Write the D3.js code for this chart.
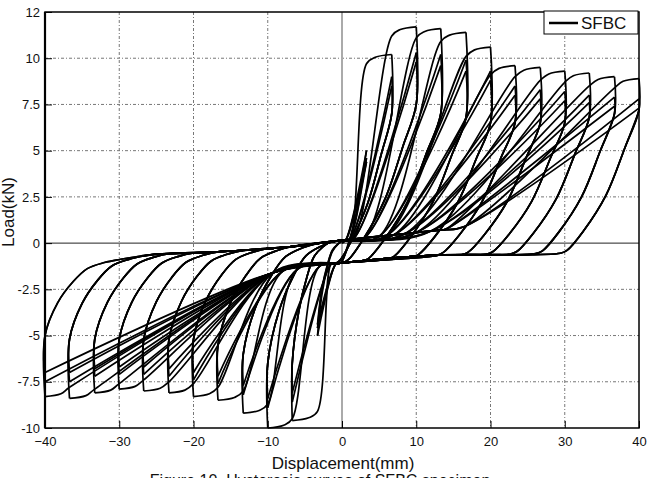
<!DOCTYPE html>
<html>
<head>
<meta charset="utf-8">
<script src="https://cdn.jsdelivr.net/npm/d3@7"></script>
<style>
  body { margin: 0; background: #fff; }
  svg { display: block; }
  text { font-family: "Liberation Sans", Arial, sans-serif; fill: #111; }
</style>
</head>
<body>
<svg id="chart" width="649" height="478"></svg>
<script>
// axis ticks
const xTicks = [-40, -30, -20, -10, 0, 10, 20, 30, 40];
const yTicks = [-10, -7.5, -5, -2.5, 0, 2.5, 5, 7.5, 10, 12.5];
const yTickLabels = ["-10", "-7.5", "-5", "-2.5", "0", "2.5", "5", "7.5", "10", "12"];

// displacement amplitude of each loading level (mm)
const levelDisp = [3.3, 6.7, 10, 13.3, 16.7, 20, 23.3, 26.7, 30, 33.3, 36.7, 40];

// peak loads of the three cycles at each level (kN)
const posPeakLoad = [
  [5.0, 4.6, 4.4], [10.2, 9.0, 8.5], [11.7, 10.3, 9.8], [11.6, 10.2, 9.6],
  [11.4, 9.9, 9.3], [10.6, 9.3, 8.8], [9.6, 8.5, 8.0], [9.5, 8.3, 7.8],
  [9.3, 8.2, 7.7], [9.2, 8.0, 7.6], [9.0, 7.9, 7.4], [8.9, 7.8, 7.3],
];
const negPeakLoad = [
  [-5.0, -4.6, -4.4], [-9.6, -8.6, -8.1], [-10.0, -8.9, -8.4], [-9.2, -8.2, -7.7],
  [-8.5, -7.6, -7.2], [-8.3, -7.4, -7.0], [-8.1, -7.2, -6.8], [-8.0, -7.1, -6.7],
  [-7.9, -7.1, -6.7], [-8.1, -7.2, -6.8], [-8.4, -7.5, -7.0], [-8.3, -7.5, -7.0],
];

// load reached at the end of the near-vertical drop after each peak
const posDropLoad = [5.0, 7.0, 7.5, 7.0, 6.8, 6.5, 6.5, 6.5, 6.5, 6.8, 7.0, 7.2];
const negDropLoad = [-5.0, -6.5, -6.5, -6.0, -5.5, -5.2, -5.2, -5.2, -5.2, -5.2, -5.2, -5.0];

// where unloading joins the slip bands, and where reloading leaves them (mm)
const posFootDisp = [-0.3, -1.0, 0.0, 2.7, 6.1, 9.4, 12.7, 16.1, 19.4, 22.7, 26.1, 29.4];
const negFootDisp = [0.2, -1.5, -1.0, -3.3, -6.7, -10, -13.3, -16.7, -20, -23.3, -26.7, -30];
const posStartDisp = [0.5, 1, 1.5, 3, 5, 6, 7, 8.5, 10, 12, 14, 16.5];
const negStartDisp = [-0.8, -1.5, -3, -6, -8, -9.3, -9.3, -9.3, -9.3, -9.3, -9.3, -9.3];

// slip bands: moving right (upper) and moving left (lower)
const upperBandDisp = [-40, -32, -25, -18, -13.7, -7, 0, 13, 20, 40];
const upperBandLoad = [-1.4, -1.0, -0.6, -0.5, -0.4, -0.2, 0.15, 0.7, 1.1, 1.6];
const lowerBandDisp = [-40, -12, -9.3, 0, 13, 29.4, 40];
const lowerBandLoad = [-2.6, -1.75, -1.6, -1.07, -0.65, -0.55, -0.5];

const posUnloadShape = [[0, 0], [0.18, 0.265], [0.42, 0.596], [0.71, 0.848], [0.915, 0.98], [1, 1]];
const negUnloadShape = [[0, 0], [0.17, 0.43], [0.38, 0.71], [0.57, 0.88], [0.8, 0.96], [1, 1]];
// saw-tooth approach to a new peak along the envelope: [fraction between levels, load below peak]
const arcShape = [[0, 0.5], [0.35, 0.15]];

const svg = d3.select("#chart");
const x = d3.scaleLinear().domain([-40, 40]).range([45, 639]);
const y = d3.scaleLinear().domain([-10, 12.5]).range([428, 12]);
const upperBand = d3.scaleLinear().domain(upperBandDisp).range(upperBandLoad);
const lowerBand = d3.scaleLinear().domain(lowerBandDisp).range(lowerBandLoad);

// grid
const grid = svg.append("g");
grid.selectAll(".gx")
  .data(xTicks.filter((d) => d !== 0 && Math.abs(d) !== 40))
  .join("line")
  .attr("x1", (d) => x(d)).attr("x2", (d) => x(d))
  .attr("y1", y(12.5)).attr("y2", y(-10))
  .attr("stroke", "#777").attr("stroke-width", 1)
  .attr("stroke-dasharray", "3,2,1,2");
grid.selectAll(".gy")
  .data(yTicks.filter((d) => d !== 0 && d !== -10 && d !== 12.5))
  .join("line")
  .attr("x1", x(-40)).attr("x2", x(40))
  .attr("y1", (d) => y(d)).attr("y2", (d) => y(d))
  .attr("stroke", "#777").attr("stroke-width", 1)
  .attr("stroke-dasharray", "3,2,1,2");
grid.append("line")
  .attr("x1", x(0)).attr("x2", x(0)).attr("y1", y(12.5)).attr("y2", y(-10))
  .attr("stroke", "#aaa").attr("stroke-width", 2);
grid.append("line")
  .attr("x1", x(-40)).attr("x2", x(40)).attr("y1", y(0)).attr("y2", y(0))
  .attr("stroke", "#222").attr("stroke-width", 1);

// build hysteresis branches, one between each pair of successive peaks
const peaks = [];
levelDisp.forEach((D, k) => {
  for (let c = 0; c < 3; c++) {
    peaks.push({ k, c, sign: 1 });
    peaks.push({ k, c, sign: -1 });
  }
});

function bandBetween(disps, band, from, to) {
  const lo = Math.min(from, to), hi = Math.max(from, to);
  const inner = disps.filter((d) => d > lo && d < hi);
  if (from > to) inner.reverse();
  return inner.map((d) => [d, band(d)]);
}

function approach(p) {
  const D = levelDisp[p.k];
  if (p.sign > 0) {
    const P = posPeakLoad[p.k][p.c];
    const s = posStartDisp[p.k];
    const pts = [[s, upperBand(s)]];
    if (p.c === 0 && p.k > 0) {
      const Dp = levelDisp[p.k - 1];
      arcShape.forEach(([f, dl]) => pts.push([Dp + (D - Dp) * f, P - dl]));
    }
    pts.push([D, P]);
    return pts;
  }
  const N = negPeakLoad[p.k][p.c];
  const s = negStartDisp[p.k];
  const pts = [[s, lowerBand(s)]];
  if (p.c === 0 && p.k > 0) {
    const Dp = levelDisp[p.k - 1];
    arcShape.forEach(([f, dl]) => pts.push([-(Dp + (D - Dp) * f), N + dl]));
  }
  pts.push([-D, N]);
  return pts;
}

function unload(p) {
  const D = levelDisp[p.k];
  if (p.sign > 0) {
    const P = posPeakLoad[p.k][p.c];
    const top = Math.min(posDropLoad[p.k], P);
    const foot = posFootDisp[p.k];
    const footLoad = lowerBand(foot);
    const pts = [[D, P]];
    posUnloadShape.forEach(([u, v]) => {
      if (u === 0 && top === P) return;
      pts.push([D + u * (foot - D), top + v * (footLoad - top)]);
    });
    return pts;
  }
  const N = negPeakLoad[p.k][p.c];
  const top = Math.max(negDropLoad[p.k], N);
  const foot = negFootDisp[p.k];
  const footLoad = upperBand(foot);
  const pts = [[-D, N]];
  negUnloadShape.forEach(([u, v]) => {
    if (u === 0 && top === N) return;
    pts.push([-D + u * (foot + D), top + v * (footLoad - top)]);
  });
  return pts;
}

const branches = [];
branches.push([[0, 0]].concat(approach(peaks[0])));
for (let i = 0; i < peaks.length - 1; i++) {
  const from = peaks[i], to = peaks[i + 1];
  const down = unload(from);
  const last = down[down.length - 1][0];
  let band;
  if (from.sign > 0) {
    band = bandBetween(lowerBandDisp, lowerBand, last, negStartDisp[to.k]);
  } else {
    band = bandBetween(upperBandDisp, upperBand, last, posStartDisp[to.k]);
  }
  branches.push(down.concat(band, approach(to)));
}

const line = d3.line()
  .x((d) => x(d[0]))
  .y((d) => y(d[1]))
  .curve(d3.curveCatmullRom.alpha(0.5));

svg.append("g")
  .selectAll("path")
  .data(branches)
  .join("path")
  .attr("d", line)
  .attr("fill", "none")
  .attr("stroke", "#000")
  .attr("stroke-width", 1.7)
  .attr("stroke-linejoin", "round");

// frame and axes
svg.append("rect")
  .attr("x", x(-40)).attr("y", y(12.5))
  .attr("width", x(40) - x(-40)).attr("height", y(-10) - y(12.5))
  .attr("fill", "none").attr("stroke", "#000").attr("stroke-width", 1.5);
svg.append("line")
  .attr("x1", x(-40)).attr("x2", x(-40)).attr("y1", y(12.5)).attr("y2", y(-10))
  .attr("stroke", "#000").attr("stroke-width", 2.2);

const xAxis = svg.append("g")
  .attr("transform", `translate(0,${y(-10)})`)
  .call(d3.axisBottom(x).tickValues(xTicks).tickSize(-7).tickPadding(9).tickFormat(d3.format("d")));
const yAxis = svg.append("g")
  .attr("transform", `translate(${x(-40)},0)`)
  .call(d3.axisLeft(y).tickValues(yTicks).tickSize(-7).tickPadding(5)
    .tickFormat((d, i) => yTickLabels[i]));
[xAxis, yAxis].forEach((g) => {
  g.select(".domain").remove();
  g.selectAll("text").attr("font-size", 13).attr("fill", "#111")
    .attr("font-family", "'Liberation Sans', Arial, sans-serif");
});

// axis titles
svg.append("text")
  .attr("x", 343).attr("y", 469)
  .attr("text-anchor", "middle").attr("font-size", 17)
  .text("Displacement(mm)");
svg.append("text")
  .attr("transform", "translate(14,212) rotate(-90)")
  .attr("text-anchor", "middle").attr("font-size", 17)
  .text("Load(kN)");

// legend
svg.append("rect")
  .attr("x", 544).attr("y", 11).attr("width", 94).attr("height", 23)
  .attr("fill", "#fff").attr("stroke", "#000").attr("stroke-width", 1);
svg.append("line")
  .attr("x1", 549).attr("x2", 578).attr("y1", 23).attr("y2", 23)
  .attr("stroke", "#000").attr("stroke-width", 2.5);
svg.append("text")
  .attr("x", 581).attr("y", 29).attr("font-size", 17)
  .text("SFBC");

// caption (cut by the bottom edge, as in the original page)
svg.append("text")
  .attr("x", 320).attr("y", 486)
  .attr("text-anchor", "middle").attr("font-size", 16)
  .attr("font-family", "'Liberation Serif', 'Times New Roman', serif")
  .text("Figure 10. Hysteresis curves of SFBC specimen");
</script>
</body>
</html>
